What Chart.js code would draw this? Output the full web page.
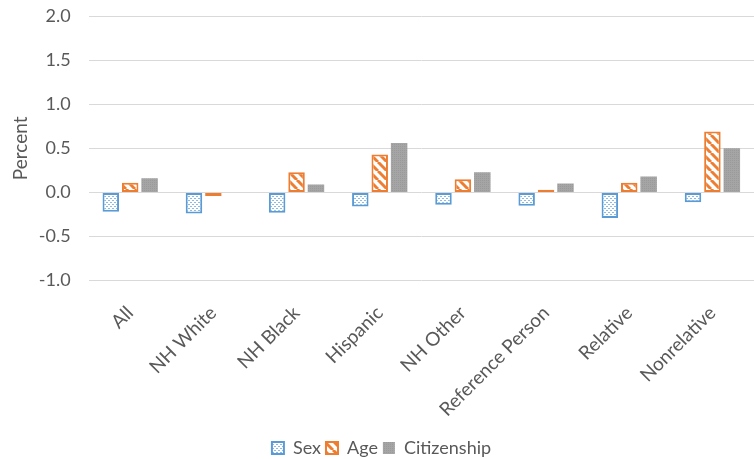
<!DOCTYPE html>
<html>
<head>
<meta charset="utf-8">
<script src="https://cdn.jsdelivr.net/npm/chart.js@4/dist/chart.umd.min.js"></script>
<style>
  html, body { margin: 0; padding: 0; background: #ffffff; }
  #wrap { width: 754px; height: 459px; position: relative; }
</style>
</head>
<body>
<div id="wrap"><canvas id="c"></canvas></div>
<script>
const categories = ["All", "NH White", "NH Black", "Hispanic", "NH Other", "Reference Person", "Relative", "Nonrelative"];
const sexValues = [-0.22, -0.24, -0.23, -0.16, -0.14, -0.15, -0.29, -0.11];
const ageValues = [0.11, -0.04, 0.23, 0.43, 0.15, 0.03, 0.11, 0.69];
const citizenshipValues = [0.16, 0.00, 0.09, 0.56, 0.23, 0.10, 0.18, 0.50];
const seriesNames = ["Sex", "Age", "Citizenship"];

function makePattern(draw, w, h) {
  const c = document.createElement('canvas');
  c.width = w; c.height = h;
  const x = c.getContext('2d');
  draw(x, w, h);
  return x.createPattern(c, 'repeat');
}
const dotPattern = makePattern((x, w, h) => {
  x.fillStyle = '#ffffff'; x.fillRect(0, 0, w, h);
  x.fillStyle = '#8dbbe4';
  x.fillRect(0, 0, 2, 1);
  x.fillRect(2, 2, 2, 1);
}, 4, 4);
const stripePattern = makePattern((x, w, h) => {
  x.fillStyle = '#ffffff'; x.fillRect(0, 0, w, h);
  x.strokeStyle = '#ED7D31'; x.lineWidth = 3;
  for (let o = -w; o <= w; o += w) {
    x.beginPath(); x.moveTo(o, 0); x.lineTo(o + w, h); x.stroke();
  }
}, 9, 9);
const grayPattern = makePattern((x, w, h) => {
  x.fillStyle = '#a5a5a5'; x.fillRect(0, 0, w, h);
  x.fillStyle = '#9a9a9a'; x.fillRect(0, 0, 1, 1);
}, 2, 2);

const FONT = 'Lato, "Liberation Sans", sans-serif';
const GREY = '#595959';

new Chart(document.getElementById('c'), {
  type: 'bar',
  data: {
    labels: categories,
    datasets: [
      { label: seriesNames[0], data: sexValues, backgroundColor: dotPattern, borderColor: '#5B9BD5', borderWidth: 2, borderSkipped: false },
      { label: seriesNames[1], data: ageValues, backgroundColor: stripePattern, borderColor: '#ED7D31', borderWidth: 2, borderSkipped: false },
      { label: seriesNames[2], data: citizenshipValues, backgroundColor: grayPattern, borderColor: '#a5a5a5', borderWidth: 0 }
    ]
  },
  options: {
    responsive: true,
    maintainAspectRatio: false,
    animation: false,
    layout: { padding: { top: 16, left: 9, right: 0, bottom: -8 } },
    datasets: { bar: { barPercentage: 0.85, categoryPercentage: 0.7 } },
    scales: {
      x: {
        grid: { display: false },
        border: { display: false },
        ticks: { color: GREY, font: { family: FONT, size: 19 }, minRotation: 45, maxRotation: 45, autoSkip: false, padding: 13 }
      },
      y: {
        min: -1, max: 2,
        grid: { color: '#d9d9d9', lineWidth: 1, drawTicks: true, tickLength: 17, tickColor: 'rgba(0,0,0,0)' },
        border: { display: false },
        ticks: { stepSize: 0.5, color: GREY, font: { family: FONT, size: 18 }, padding: 1, callback: v => v.toFixed(1) },
        title: { display: true, text: 'Percent', color: GREY, font: { family: FONT, size: 19 }, padding: { top: 0, bottom: 6 } }
      }
    },
    plugins: {
      legend: {
        position: 'bottom',
        labels: { color: GREY, font: { family: FONT, size: 18 }, boxWidth: 12, boxHeight: 12, padding: 5 }
      },
      tooltip: { enabled: false }
    }
  }
});
</script>
</body>
</html>
